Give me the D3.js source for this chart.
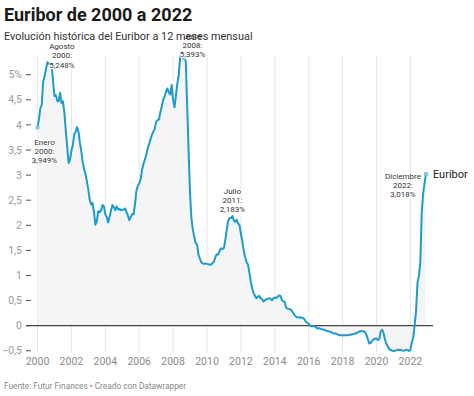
<!DOCTYPE html>
<html>
<head>
<meta charset="utf-8">
<script src="https://cdn.jsdelivr.net/npm/d3@7"></script>
<style>
  body { margin: 0; background: #fff; font-family: Roboto, sans-serif; }
  svg text { font-family: Roboto, sans-serif; }
</style>
</head>
<body>
<svg id="chart" width="474" height="396"></svg>
<script>
// Euribor 12 meses, media mensual (ene 2000 - dic 2022)
const startYear = 2000;
const euribor = [
  3.949, 4.106, 4.330, 4.401, 4.858, 4.962, 5.115, 5.248, 5.216, 5.220, 5.193, 4.878,
  4.575, 4.593, 4.473, 4.471, 4.639, 4.435, 4.472, 4.255, 3.895, 3.580, 3.240, 3.303,
  3.484, 3.590, 3.816, 3.859, 3.956, 3.869, 3.641, 3.482, 3.259, 3.117, 3.024, 2.870,
  2.709, 2.503, 2.415, 2.446, 2.254, 2.013, 2.077, 2.281, 2.263, 2.297, 2.406, 2.380,
  2.218, 2.163, 2.055, 2.163, 2.297, 2.404, 2.361, 2.302, 2.377, 2.316, 2.328, 2.301,
  2.312, 2.310, 2.335, 2.265, 2.193, 2.103, 2.168, 2.223, 2.220, 2.414, 2.684, 2.783,
  2.833, 2.914, 3.105, 3.221, 3.308, 3.401, 3.539, 3.615, 3.715, 3.799, 3.864, 3.921,
  4.064, 4.094, 4.106, 4.253, 4.373, 4.505, 4.564, 4.666, 4.725, 4.647, 4.607, 4.793,
  4.498, 4.349, 4.590, 4.820, 4.994, 5.361, 5.393, 5.323, 5.384, 5.248, 4.350, 3.452,
  2.622, 2.135, 1.909, 1.771, 1.644, 1.610, 1.412, 1.334, 1.261, 1.243, 1.231, 1.242,
  1.232, 1.225, 1.215, 1.225, 1.249, 1.281, 1.373, 1.421, 1.420, 1.495, 1.540, 1.526,
  1.550, 1.714, 1.924, 2.086, 2.147, 2.144, 2.183, 2.097, 2.067, 2.110, 2.044, 2.004,
  1.837, 1.678, 1.499, 1.368, 1.266, 1.219, 1.061, 0.877, 0.740, 0.650, 0.588, 0.549,
  0.575, 0.594, 0.545, 0.528, 0.484, 0.507, 0.525, 0.542, 0.543, 0.541, 0.506, 0.543,
  0.562, 0.549, 0.577, 0.604, 0.592, 0.513, 0.488, 0.469, 0.362, 0.338, 0.335, 0.329,
  0.298, 0.255, 0.212, 0.180, 0.165, 0.163, 0.167, 0.161, 0.154, 0.128, 0.079, 0.059,
  0.042, -0.008, -0.012, -0.010, -0.013, -0.028, -0.056, -0.048, -0.057, -0.069, -0.074, -0.080,
  -0.095, -0.106, -0.110, -0.119, -0.127, -0.149, -0.154, -0.156, -0.168, -0.180, -0.189, -0.190,
  -0.189, -0.191, -0.191, -0.190, -0.188, -0.181, -0.180, -0.169, -0.166, -0.154, -0.147, -0.129,
  -0.116, -0.108, -0.109, -0.112, -0.134, -0.190, -0.283, -0.356, -0.339, -0.304, -0.272, -0.261,
  -0.253, -0.288, -0.266, -0.108, -0.081, -0.147, -0.279, -0.359, -0.415, -0.466, -0.481, -0.497,
  -0.505, -0.501, -0.487, -0.484, -0.481, -0.484, -0.491, -0.498, -0.492, -0.477, -0.487, -0.502,
  -0.477, -0.335, -0.237, 0.013, 0.287, 0.852, 0.992, 1.249, 2.233, 2.629, 2.828, 3.018
];

const yTicks = [-0.5, 0, 0.5, 1, 1.5, 2, 2.5, 3, 3.5, 4, 4.5, 5];
const xTicks = [2000, 2002, 2004, 2006, 2008, 2010, 2012, 2014, 2016, 2018, 2020, 2022];

// anotaciones: índice del mes y texto
const notes = [
  { i: 0,   lines: ["Enero", "2000:", "3,949%"],     dx: 7,   dy: 17.5 },
  { i: 7,   lines: ["Agosto", "2000:", "5,248%"],    dx: 14.5, dy: -13 },
  { i: 102, lines: ["Julio", "2008:", "5,393%"],     dx: 11,  dy: -16 },
  { i: 138, lines: ["Julio", "2011:", "2,183%"],     dx: 0,   dy: -22.5 },
  { i: 275, lines: ["Diciembre", "2022:", "3,018%"], dx: -23, dy: 4.5 }
];

const data = euribor.map((v, i) => ({ t: startYear + i / 12, v: v }));

const svg = d3.select("#chart");

const x = d3.scaleLinear().domain([2000, 2022]).range([37.5, 410.4]);
const y = d3.scaleLinear().domain([-0.5, 5.4]).range([350.8, 54.6]);

const fmt = d => (d === 5 ? "5%" : d3.format(".1~f")(d).replace(".", ",").replace("-", "\u2212"));

// título
svg.append("text").attr("x", 4).attr("y", 21)
  .attr("font-size", 18).attr("font-weight", 700).attr("fill", "#1a1a1a")
  .text("Euribor de 2000 a 2022");

// rejilla vertical
svg.append("g").selectAll("line").data(xTicks).join("line")
  .attr("x1", d => x(d)).attr("x2", d => x(d))
  .attr("y1", 55).attr("y2", 353)
  .attr("stroke", "#e8e8e8").attr("stroke-width", 1);

// área
const area = d3.area().x(d => x(d.t)).y0(y(0)).y1(d => y(d.v));
svg.append("path").datum(data).attr("d", area)
  .attr("fill", "#f5f5f5");

// eje y
const yAxis = svg.append("g");
yAxis.selectAll("line").data(yTicks).join("line")
  .attr("x1", 26).attr("x2", 31)
  .attr("y1", d => y(d)).attr("y2", d => y(d))
  .attr("stroke", "#555").attr("stroke-width", 1);
yAxis.selectAll("text").data(yTicks).join("text")
  .attr("x", 22).attr("y", d => y(d)).attr("dy", "0.35em")
  .attr("text-anchor", "end").attr("font-size", 10.5).attr("fill", "#9a9a9a")
  .text(fmt);

// línea del cero
svg.append("line")
  .attr("x1", 26).attr("x2", 433)
  .attr("y1", y(0)).attr("y2", y(0))
  .attr("stroke", "#444").attr("stroke-width", 1.3);

// eje x
svg.append("g").selectAll("text").data(xTicks).join("text")
  .attr("x", d => x(d)).attr("y", 365)
  .attr("text-anchor", "middle").attr("font-size", 10.5).attr("fill", "#8a8a8a")
  .text(d3.format("d"));

// línea
const line = d3.line().x(d => x(d.t)).y(d => y(d.v));
svg.append("path").datum(data).attr("d", line)
  .attr("fill", "none").attr("stroke", "#1d9bcc").attr("stroke-width", 2)
  .attr("stroke-linejoin", "round");

// puntos extremos
const ends = [data[0], data[data.length - 1]];
svg.append("g").selectAll("rect").data(ends).join("rect")
  .attr("x", d => x(d.t) - 2).attr("y", d => y(d.v) - 2)
  .attr("width", 4).attr("height", 4)
  .attr("fill", "#7cc7e6");

// etiqueta de la serie
const last = data[data.length - 1];
svg.append("text").attr("x", x(last.t) + 7).attr("y", y(last.v)).attr("dy", "0.35em")
  .attr("font-size", 11).attr("fill", "#222").text("Euribor");

// anotaciones
const ng = svg.append("g");
notes.forEach(n => {
  const d = data[n.i];
  const t = ng.append("text")
    .attr("text-anchor", "middle").attr("font-size", 8).attr("fill", "#333")
    .attr("paint-order", "stroke").attr("stroke", "#fff").attr("stroke-width", 2);
  n.lines.forEach((l, k) => {
    t.append("tspan").attr("x", x(d.t) + n.dx)
      .attr("y", y(d.v) + n.dy + k * 9.2).text(l);
  });
});

// subtítulo (encima de las anotaciones, como en el original)
svg.append("text").attr("x", 4).attr("y", 40)
  .attr("font-size", 10.9).attr("fill", "#333")
  .text("Evolución histórica del Euribor a 12 meses mensual");

// pie
svg.append("text").attr("x", 4).attr("y", 389)
  .attr("font-size", 8.3).attr("fill", "#888")
  .text("Fuente: Futur Finances \u2022 Creado con Datawrapper");
</script>
</body>
</html>
